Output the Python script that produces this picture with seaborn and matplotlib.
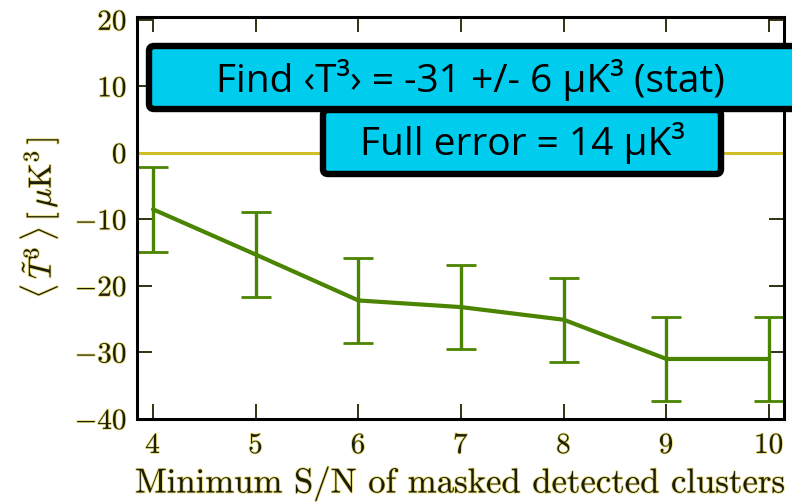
import matplotlib
matplotlib.use("Agg")
import matplotlib.pyplot as plt
import matplotlib.patheffects as pe
from matplotlib.patches import FancyBboxPatch
from matplotlib.transforms import IdentityTransform
import numpy as np
import pandas as pd
import seaborn as sns

# Minimum S/N threshold of masked clusters and the resulting skewness
min_sn = [4, 5, 6, 7, 8, 9, 10]
t3_mean = [-8.5, -15.3, -22.2, -23.2, -25.1, -31.0, -31.0]
t3_err = [6.4, 6.35, 6.35, 6.35, 6.35, 6.35, 6.35]

x_ticks = [4, 5, 6, 7, 8, 9, 10]
y_ticks = [-40, -30, -20, -10, 0, 10, 20]

headline = "Find \u2039T\u00b3\u203a = -31 +/- 6 \u03bcK\u00b3 (stat)"
subline = "Full error = 14 \u03bcK\u00b3"

sns.set_theme(style="ticks")
plt.rcParams["font.family"] = ["cmr10", "DejaVu Serif"]
plt.rcParams["mathtext.fontset"] = "cm"
plt.rcParams["axes.formatter.use_mathtext"] = True
plt.rcParams["axes.unicode_minus"] = True

df = pd.DataFrame({"sn": min_sn, "t3": t3_mean, "err": t3_err})

fig = plt.figure(figsize=(7.92, 5.04), dpi=100)
ax = fig.add_axes([0.173, 0.169, 0.817, 0.797])

text_color = "#1e1e08"
halo = [pe.withStroke(linewidth=1.2, foreground="#e6dc7a")]

line_green = "#4a8400"
cap_green = "#62a818"

ax.axhline(0, color="#cfc028", lw=2.2, zorder=1)
_, caps, _ = ax.errorbar(df["sn"], df["t3"], yerr=df["err"], fmt="none",
                         ecolor=line_green, elinewidth=2.4, capsize=11,
                         capthick=2.0, zorder=2)
for c in caps:
    c.set_color(cap_green)
sns.lineplot(data=df, x="sn", y="t3", ax=ax, color=line_green, lw=3.0,
             zorder=3, legend=False)

ax.set_xlim(3.844, 10.146)
ax.set_ylim(-40, 20.4)
ax.set_xticks(x_ticks)
ax.set_yticks(y_ticks)
ax.set_xticklabels([f"${v}$" for v in x_ticks])
ax.set_yticklabels([f"${v}$" for v in y_ticks])

ax.tick_params(direction="in", length=11, width=1.3, color="#222200",
               top=True, right=True, labelsize=21, labelcolor=text_color, pad=7)
ax.tick_params(axis="x", pad=10)
for lab in ax.get_xticklabels() + ax.get_yticklabels():
    lab.set_path_effects(halo)

for s in ax.spines.values():
    s.set_color("black")
    s.set_linewidth(2.2)

ax.set_xlabel("Minimum S/N of masked detected clusters", fontsize=25,
              color=text_color, labelpad=5, path_effects=halo)
ax.set_ylabel(r"$\langle\,\tilde{T}^{3}\,\rangle\,[\,\mu\mathrm{K}^{3}\,]$",
              fontsize=23, color=text_color, labelpad=10, path_effects=halo)

# Annotation boxes, positioned in pixel space (origin at bottom-left)
H = 504
def add_box(x0, y_top, x1, y_bot):
    fig.add_artist(FancyBboxPatch((x0, H - y_bot), x1 - x0, y_bot - y_top,
                                  boxstyle="round,pad=0,rounding_size=5",
                                  transform=IdentityTransform(),
                                  facecolor="#00ccee", edgecolor="black",
                                  linewidth=4.6, zorder=10))

add_box(149, 46, 806, 109)
fig.text(470 / 792, 1 - 80 / H, headline, ha="center", va="center",
         fontsize=28, family=["Open Sans", "DejaVu Sans"], color="black", zorder=11)
add_box(323, 110, 721, 174)
fig.text(522 / 792, 1 - 143 / H, subline, ha="center", va="center",
         fontsize=28, family=["Open Sans", "DejaVu Sans"], color="black", zorder=11)

fig.savefig("out.png", dpi=100)
